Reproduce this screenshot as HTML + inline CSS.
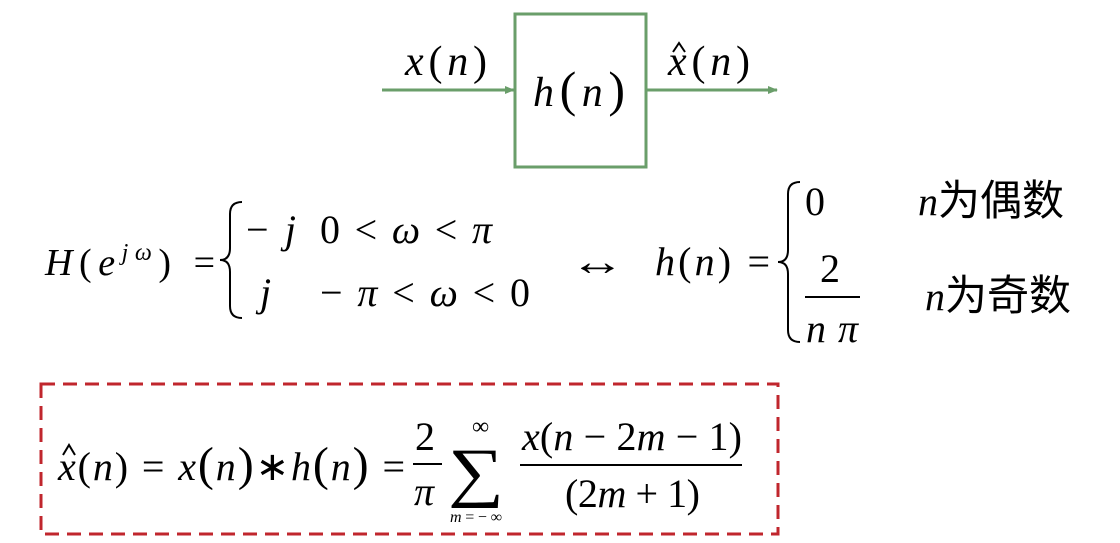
<!DOCTYPE html>
<html><head><meta charset="utf-8"><style>
html,body{margin:0;padding:0;background:#fff;}
svg text{font-family:"Liberation Serif","Noto Serif CJK SC",serif;fill:#000;}
.i{font-style:italic;}
.cj{font-family:"Liberation Sans","Noto Sans CJK SC",sans-serif;font-style:normal;}
</style></head><body>
<svg width="1120" height="538" viewBox="0 0 1120 538" xmlns="http://www.w3.org/2000/svg">
<defs><marker id="a" markerWidth="10" markerHeight="8" refX="9" refY="4" orient="auto" markerUnits="userSpaceOnUse"><path d="M0,0 L10,4 L0,8 z" fill="#6a9e6a"/></marker></defs>
<rect x="515" y="14" width="131" height="153" fill="none" stroke="#6a9e6a" stroke-width="3"/>
<line x1="382" y1="90" x2="514" y2="90" stroke="#6a9e6a" stroke-width="3" marker-end="url(#a)"/>
<line x1="646" y1="90" x2="777" y2="90" stroke="#6a9e6a" stroke-width="3" marker-end="url(#a)"/>
<text x="405" y="75" font-size="42" textLength="82" lengthAdjust="spacing"><tspan class="i">x</tspan>(<tspan class="i">n</tspan>)</text>
<text x="533" y="106" font-size="42" textLength="92" lengthAdjust="spacing"><tspan class="i">h</tspan><tspan font-size="50">(</tspan><tspan class="i">n</tspan><tspan font-size="50">)</tspan></text>
<text x="668" y="75" font-size="42" textLength="82" lengthAdjust="spacing"><tspan class="i">x</tspan>(<tspan class="i">n</tspan>)</text>
<path d="M673,52 L679,43 L685,52" fill="none" stroke="#000" stroke-width="2"/>

<text x="45" y="275" font-size="38" textLength="170" lengthAdjust="spacing"><tspan class="i">H</tspan>(<tspan class="i">e</tspan><tspan class="i" font-size="24" dy="-15">jω</tspan><tspan dy="15">) =</tspan></text>
<path d="M242,202 Q230,202 230,214 L230,248 Q230,260 220,260 Q230,260 230,272 L230,306 Q230,318 242,318" fill="none" stroke="#000" stroke-width="2"/>
<text x="246" y="243" font-size="40" textLength="50" lengthAdjust="spacing">−<tspan class="i">j</tspan></text>
<text x="320" y="243" font-size="40" textLength="172" lengthAdjust="spacing">0 &lt; <tspan class="i">ω</tspan> &lt; <tspan class="i">π</tspan></text>
<text x="260" y="306" font-size="40" class="i">j</text>
<text x="320" y="306" font-size="40" textLength="210" lengthAdjust="spacing">− <tspan class="i">π</tspan> &lt; <tspan class="i">ω</tspan> &lt; 0</text>
<text x="570" y="275" font-size="40" textLength="55" lengthAdjust="spacingAndGlyphs">↔</text>
<text x="655" y="275" font-size="40" textLength="115" lengthAdjust="spacing"><tspan class="i">h</tspan>(<tspan class="i">n</tspan>) =</text>
<path d="M800,182 Q788,182 788,194 L788,250 Q788,262 778,262 Q788,262 788,274 L788,330 Q788,342 800,342" fill="none" stroke="#000" stroke-width="2"/>
<text x="805" y="215" font-size="40">0</text>
<text x="918" y="215" font-size="40"><tspan class="i">n</tspan><tspan class="cj" font-size="42">为偶数</tspan></text>
<text x="820" y="282" font-size="40">2</text>
<line x1="805" y1="297" x2="860" y2="297" stroke="#000" stroke-width="2"/>
<text x="806" y="342" font-size="40" class="i" textLength="52" lengthAdjust="spacing">nπ</text>
<text x="925" y="310" font-size="40"><tspan class="i">n</tspan><tspan class="cj" font-size="42">为奇数</tspan></text>

<rect x="41" y="384" width="737" height="150" fill="none" stroke="#c0262d" stroke-width="3" stroke-dasharray="14,8"/>
<text x="58" y="480" font-size="40" textLength="347" lengthAdjust="spacing"><tspan class="i">x</tspan>(<tspan class="i">n</tspan>) = <tspan class="i">x</tspan><tspan font-size="48">(</tspan><tspan class="i">n</tspan><tspan font-size="48">)</tspan>∗<tspan class="i">h</tspan><tspan font-size="48">(</tspan><tspan class="i">n</tspan><tspan font-size="48">)</tspan> =</text>
<path d="M63,455 L69,445 L75,455" fill="none" stroke="#000" stroke-width="2"/>
<text x="415" y="450" font-size="40">2</text>
<line x1="413" y1="464" x2="442" y2="464" stroke="#000" stroke-width="2"/>
<text x="414" y="505" font-size="40" class="i">π</text>
<text x="448" y="494" font-size="66" textLength="56" lengthAdjust="spacingAndGlyphs">∑</text>
<text x="472" y="434" font-size="24">∞</text>
<text x="450" y="522" font-size="16" textLength="52" lengthAdjust="spacing"><tspan class="i">m</tspan>=−∞</text>
<text x="522" y="450" font-size="40" textLength="220" lengthAdjust="spacing"><tspan class="i">x</tspan>(<tspan class="i">n</tspan> − 2<tspan class="i">m</tspan> − 1)</text>
<line x1="520" y1="465" x2="742" y2="465" stroke="#000" stroke-width="2"/>
<text x="565" y="507" font-size="40" textLength="135" lengthAdjust="spacing">(2<tspan class="i">m</tspan> + 1)</text>
</svg>
</body></html>
